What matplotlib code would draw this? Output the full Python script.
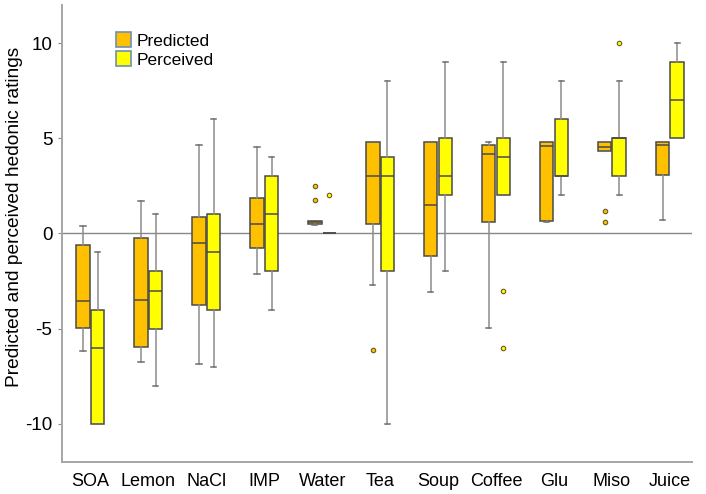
import matplotlib
matplotlib.use("Agg")
import matplotlib.pyplot as plt
from matplotlib.patches import Patch

plt.rcParams['font.family'] = ['Liberation Sans', 'DejaVu Sans']

categories = ["SOA", "Lemon", "NaCl", "IMP", "Water", "Tea", "Soup", "Coffee", "Glu", "Miso", "Juice"]

# predicted ratings (box stats per category)
pred_low = [-6.15, -6.74, -6.86, -2.13, 0.42, -2.72, -3.09, -4.96, 0.59, 4.31, 0.68]
pred_q1 = [-4.96, -5.94, -3.74, -0.79, 0.51, 0.51, -1.19, 0.59, 0.63, 4.31, 3.09]
pred_med = [-3.56, -3.51, -0.51, 0.47, 0.58, 3.00, 1.50, 4.19, 4.59, 4.52, 4.66]
pred_q3 = [-0.63, -0.23, 0.86, 1.87, 0.66, 4.80, 4.80, 4.66, 4.80, 4.80, 4.80]
pred_high = [0.40, 1.69, 4.66, 4.52, 0.66, 4.80, 4.80, 4.80, 4.80, 4.80, 4.80]
pred_out = [[], [], [], [], [1.73, 2.48], [-6.11], [], [], [], [0.59, 1.19], []]

# perceived ratings
perc_low = [-10, -8, -7, -4, 0, -10, -2, 2, 2, 2, 5]
perc_q1 = [-10, -5, -4, -2, 0, -2, 2, 2, 3, 3, 5]
perc_med = [-6, -3, -1, 1, 0, 3, 3, 4, 3, 5, 7]
perc_q3 = [-4, -2, 1, 3, 0, 4, 5, 5, 6, 5, 9]
perc_high = [-1, 1, 6, 4, 0, 8, 9, 9, 8, 8, 10]
perc_out = [[], [], [], [], [2], [], [], [-3, -6], [], [10], []]

pred_color = "#FFC000"
perc_color = "#FFFF00"


def make_stats(low, q1, med, q3, high, out):
    stats = []
    for i in range(len(low)):
        stats.append(dict(whislo=low[i], q1=q1[i], med=med[i], q3=q3[i],
                          whishi=high[i], fliers=out[i]))
    return stats


fig = plt.figure(figsize=(7.06, 4.94), dpi=100)
ax = fig.add_axes([0.0878, 0.065, 0.8922, 0.925])

ax.axhline(0, color="#888888", lw=1, zorder=1)

pos = list(range(1, len(categories) + 1))
off = 0.126
w = 0.232

for stats, shift, col in [(make_stats(pred_low, pred_q1, pred_med, pred_q3, pred_high, pred_out), -off, pred_color),
                          (make_stats(perc_low, perc_q1, perc_med, perc_q3, perc_high, perc_out), off, perc_color)]:
    ax.bxp(stats, positions=[p + shift for p in pos], widths=w, capwidths=0.09,
           patch_artist=True, manage_ticks=False,
           boxprops=dict(facecolor=col, edgecolor="#4a4a4a", lw=1.1),
           medianprops=dict(color="#4a4a4a", lw=1.1),
           whiskerprops=dict(color="#8c8c8c", lw=1.1),
           capprops=dict(color="#6e6e6e", lw=1.1),
           flierprops=dict(marker="o", markersize=3.2, markerfacecolor=col,
                           markeredgecolor="#6a5a20", markeredgewidth=0.8))

ax.set_xlim(0.51, 11.38)
ax.set_ylim(-12, 12)
ax.set_xticks(pos)
ax.set_xticklabels(categories, fontsize=13)
ax.set_yticks([-10, -5, 0, 5, 10])
ax.set_yticklabels(["-10", "-5", "0", "5", "10"], fontsize=13.5)
ax.tick_params(axis="x", length=0, pad=8)
ax.tick_params(axis="y", length=3, color="#888888", pad=4)
ax.set_ylabel("Predicted and perceived hedonic ratings", fontsize=13.8)
ax.yaxis.set_label_coords(-0.062, 0.537)

for s in ["top", "right"]:
    ax.spines[s].set_visible(False)
for s in ["left", "bottom"]:
    ax.spines[s].set_color("#a6a6a6")
    ax.spines[s].set_linewidth(1.4)

handles = [Patch(facecolor=pred_color, edgecolor="#6f8fb8", lw=1.2, label="Predicted"),
           Patch(facecolor=perc_color, edgecolor="#6f8fb8", lw=1.2, label="Perceived")]
ax.legend(handles=handles, loc="upper left", bbox_to_anchor=(0.086, 0.94),
          frameon=False, fontsize=12.5, handlelength=0.85, handleheight=0.95,
          handletextpad=0.35, labelspacing=0.15, borderpad=0, borderaxespad=0)

fig.savefig("out.png", dpi=100)
